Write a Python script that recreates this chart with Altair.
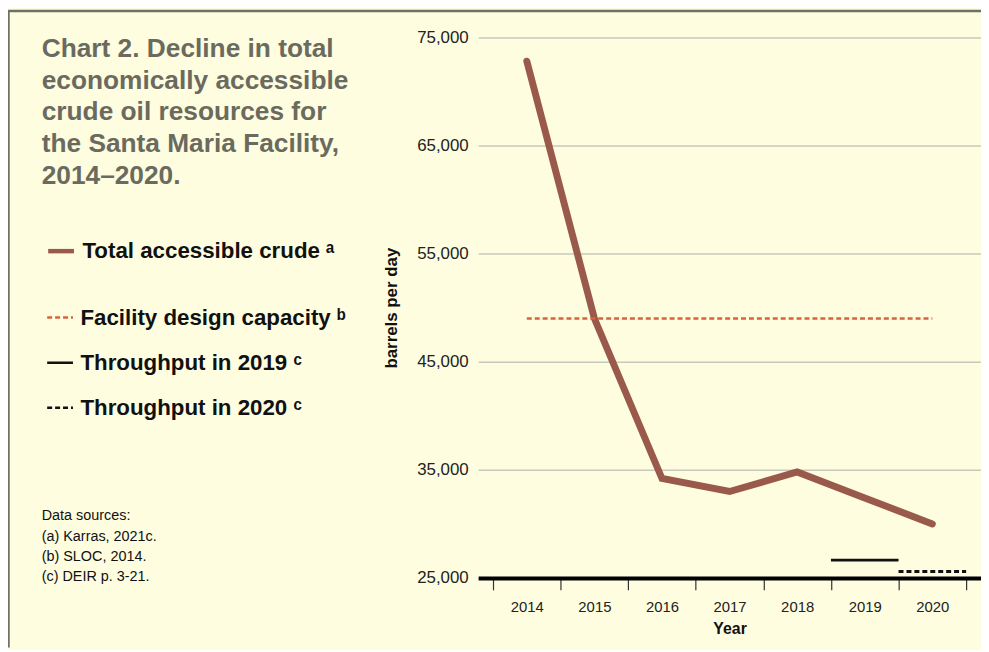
import altair as alt
import pandas as pd

# ---- data ----
years = [2014, 2015, 2016, 2017, 2018, 2019, 2020]
crude_bpd = [72800, 49000, 34200, 33000, 34800, 32400, 30000]
capacity_bpd = 49000
throughput_years = [2019, 2020]
throughput_bpd = [26650, 25600]
y_ticks = [25000, 35000, 45000, 55000, 65000, 75000]

crude_label = "Total accessible crude \u1d43"
ref_labels = ["Facility design capacity \u1d47", "Throughput in 2019 \u1d9c", "Throughput in 2020 \u1d9c"]
ref_colors = ["#d9633a", "#111111", "#111111"]
ref_dashes = [[5, 3], [1, 0], [5, 3]]
brown = "#9a5a4b"

title_lines = [
    "Chart 2. Decline in total",
    "economically accessible",
    "crude oil resources for",
    "the Santa Maria Facility,",
    "2014\u20132020.",
]
source_lines = ["Data sources:", "(a) Karras, 2021c.", "(b) SLOC, 2014.", "(c) DEIR p. 3-21."]

FONT = "Liberation Sans"
BG = "#fefde0"

crude_df = pd.DataFrame({"year": years, "bpd": crude_bpd, "series": [crude_label] * len(years)})
cap_df = pd.DataFrame({"start": [years[0]], "end": [years[-1]], "bpd": [capacity_bpd], "ref": [ref_labels[0]]})
thr_df = pd.DataFrame({"start": throughput_years, "end": throughput_years,
                       "bpd": throughput_bpd, "ref": ref_labels[1:]})

x_scale = alt.Scale(type="band", domain=years, paddingInner=0, paddingOuter=0.22)
y_scale = alt.Scale(domain=[y_ticks[0], y_ticks[-1]], nice=False, zero=False)

x_axis = alt.Axis(title="Year", tickBand="extent", labelAngle=0, grid=False,
                  domainColor="#000000", domainWidth=4, tickColor="#333333", tickWidth=1.2,
                  tickSize=12, labelFontSize=15, labelColor="#222222", labelPadding=10,
                  titleFontSize=16, titleFontWeight="bold", titleColor="#111111", titlePadding=6)
y_axis = alt.Axis(title="barrels per day", values=y_ticks, format=",d", domain=False, ticks=False,
                  labelPadding=10, labelFontSize=17, labelColor="#222222", grid=True,
                  gridColor="#c9c8bd", gridWidth=1.5, titleFontSize=17, titleFontWeight="bold",
                  titleColor="#111111", titlePadding=16)

legend_common = dict(title=None, orient="none", symbolType="stroke", symbolSize=676,
                     labelFontSize=22.5, labelFontWeight="bold", labelFont=FONT, labelColor="#111111",
                     labelOffset=6, labelLimit=500, padding=0)
legend1 = alt.Legend(legendX=-436, legendY=200, symbolStrokeWidth=4.5, **legend_common)
legend2 = alt.Legend(legendX=-436, legendY=268, symbolStrokeWidth=2.5, rowPadding=19.5, **legend_common)

stroke_scale = alt.Scale(domain=ref_labels, range=ref_colors)
dash_scale = alt.Scale(domain=ref_labels, range=ref_dashes)

crude = alt.Chart(crude_df).mark_line(strokeWidth=7, strokeCap="round").encode(
    x=alt.X("year:O", scale=x_scale, axis=x_axis, bandPosition=0.5, title="Year"),
    y=alt.Y("bpd:Q", scale=y_scale, axis=y_axis, title="barrels per day"),
    color=alt.Color("series:N", scale=alt.Scale(domain=[crude_label], range=[brown]), legend=legend1),
)

cap = alt.Chart(cap_df).mark_rule(strokeWidth=2.5).encode(
    x=alt.X("start:O", scale=x_scale, axis=x_axis, bandPosition=0.5, title="Year"),
    x2=alt.X2("end", bandPosition=0.5),
    y=alt.Y("bpd:Q", scale=y_scale, axis=y_axis, title="barrels per day"),
    stroke=alt.Stroke("ref:N", scale=stroke_scale, legend=legend2),
    strokeDash=alt.StrokeDash("ref:N", scale=dash_scale, legend=legend2),
)

thr = alt.Chart(thr_df).mark_rule(strokeWidth=3).encode(
    x=alt.X("start:O", scale=x_scale, axis=x_axis, bandPosition=0, title="Year"),
    x2=alt.X2("end", bandPosition=1),
    y=alt.Y("bpd:Q", scale=y_scale, axis=y_axis, title="barrels per day"),
    stroke=alt.Stroke("ref:N", scale=stroke_scale, legend=legend2),
    strokeDash=alt.StrokeDash("ref:N", scale=dash_scale, legend=legend2),
)

# decorative frame (top and left edges of the panel)
frame_data = alt.Data(values=[{"f": 1}])
frame_top = alt.Chart(frame_data).mark_rule(color="#707068", strokeWidth=2.5).encode(
    x=alt.value(-474), x2=alt.value(507), y=alt.value(-26.5))
frame_left = alt.Chart(frame_data).mark_rule(color="#707068", strokeWidth=2.5).encode(
    x=alt.value(-473.5), y=alt.value(-27), y2=alt.value(615))

chart = alt.layer(frame_top, frame_left, crude, cap, thr).properties(
    width=507,
    height=545,
    padding={"left": 474, "top": 27, "right": 0, "bottom": 70},
    autosize=alt.AutoSizeParams(type="none"),
    title=alt.TitleParams(
        text=title_lines, subtitle=source_lines, anchor="start", frame="group", orient="top",
        baseline="top", offset=0, dx=-440, dy=579,
        font=FONT, fontSize=26.5, fontWeight="bold", color="#6b6a5e", lineHeight=32,
        subtitleFont=FONT, subtitleFontSize=14.5, subtitleColor="#111111",
        subtitleLineHeight=20.5, subtitlePadding=322.5, subtitleFontWeight="normal",
    ),
).configure(
    background=BG, font=FONT
).configure_view(strokeWidth=0)

chart.save("out.html", embed_options={"renderer": "svg", "actions": False})
